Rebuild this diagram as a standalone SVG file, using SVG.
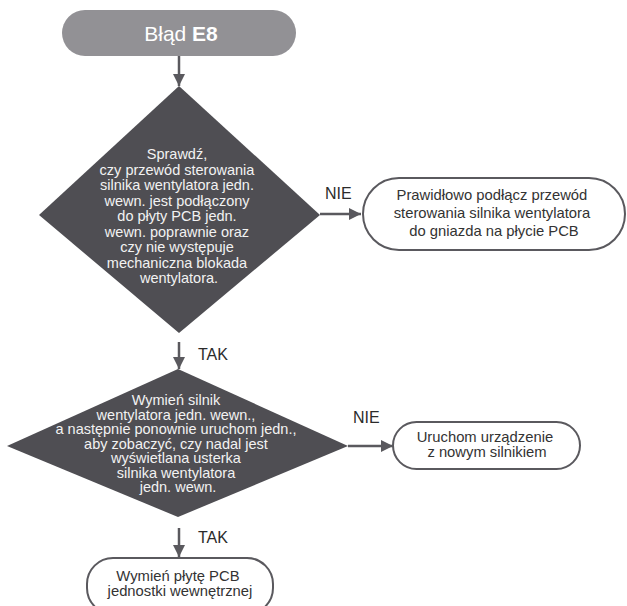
<svg xmlns="http://www.w3.org/2000/svg" width="627" height="606" viewBox="0 0 627 606">
<defs>
<style>
.dia{fill:#4f4e53}
.dt{font-family:"Liberation Sans",Arial,sans-serif;font-size:14.5px;fill:#f2f2f2;text-anchor:middle}
.bt{font-family:"Liberation Sans",Arial,sans-serif;font-size:14.8px;fill:#333;text-anchor:middle}
.lbl{font-family:"Liberation Sans",Arial,sans-serif;font-size:16px;fill:#2b2b2b}
.box{fill:#fff;stroke:#5a595e;stroke-width:2}
.con{stroke:#5a595e;stroke-width:2.5;fill:none}
</style>
<marker id="ah" viewBox="0 0 10 10" refX="10" refY="5" markerWidth="5" markerHeight="5" orient="auto" markerUnits="strokeWidth">
<path d="M0,0 L10,5 L0,10 z" fill="#5a595e"/>
</marker>
</defs>
<rect width="627" height="606" fill="#fff"/>
<g id="connectors">
<line class="con" x1="179" y1="56" x2="179" y2="86" marker-end="url(#ah)"/>
<line class="con" x1="320" y1="214" x2="361" y2="214" marker-end="url(#ah)"/>
<line class="con" x1="179" y1="342" x2="179" y2="369" marker-end="url(#ah)"/>
<line class="con" x1="348" y1="446" x2="393" y2="446" marker-end="url(#ah)"/>
<line class="con" x1="179" y1="528" x2="179" y2="557" marker-end="url(#ah)"/>
<text class="lbl" x="325" y="199">NIE</text>
<text class="lbl" x="198" y="360">TAK</text>
<text class="lbl" x="353" y="423">NIE</text>
<text class="lbl" x="198" y="543">TAK</text>
</g>
<g id="start">
<rect x="62" y="10" width="234" height="46" rx="23" fill="#929195"/>
<text x="181" y="41" font-family="'Liberation Sans',Arial,sans-serif" font-size="21" fill="#fff" text-anchor="middle">Błąd <tspan font-weight="bold">E8</tspan></text>
</g>
<g id="decision1">
<polygon class="dia" points="179,86 320,215 179,333 39,215"/>
<text class="dt">
<tspan x="179" y="159">Sprawdź,</tspan>
<tspan x="179" y="174.5">czy przewód sterowania</tspan>
<tspan x="179" y="190">silnika wentylatora jedn.</tspan>
<tspan x="179" y="205.5">wewn. jest podłączony</tspan>
<tspan x="179" y="221">do płyty PCB jedn.</tspan>
<tspan x="179" y="236.5">wewn. poprawnie oraz</tspan>
<tspan x="179" y="252">czy nie występuje</tspan>
<tspan x="179" y="267.5">mechaniczna blokada</tspan>
<tspan x="179" y="283">wentylatora.</tspan>
</text>
</g>
<g id="box1">
<rect class="box" x="363" y="178" width="262" height="72" rx="36"/>
<text class="bt">
<tspan x="494" y="200">Prawidłowo podłącz przewód</tspan>
<tspan x="494" y="218">sterowania silnika wentylatora</tspan>
<tspan x="494" y="236">do gniazda na płycie PCB</tspan>
</text>
</g>
<g id="decision2">
<polygon class="dia" points="178,369 348,446 178,517 7,446"/>
<text class="dt">
<tspan x="178" y="405">Wymień silnik</tspan>
<tspan x="178" y="419.5">wentylatora jedn. wewn.,</tspan>
<tspan x="178" y="434">a następnie ponownie uruchom jedn.,</tspan>
<tspan x="178" y="448.5">aby zobaczyć, czy nadal jest</tspan>
<tspan x="178" y="463">wyświetlana usterka</tspan>
<tspan x="178" y="477.5">silnika wentylatora</tspan>
<tspan x="178" y="492">jedn. wewn.</tspan>
</text>
</g>
<g id="box2">
<rect class="box" x="393" y="422" width="187" height="47" rx="23.5"/>
<text class="bt">
<tspan x="487" y="442">Uruchom urządzenie</tspan>
<tspan x="487" y="457">z nowym silnikiem</tspan>
</text>
</g>
<g id="box3">
<rect class="box" x="87" y="558" width="186" height="56" rx="26"/>
<text class="bt">
<tspan x="180" y="581">Wymień płytę PCB</tspan>
<tspan x="180" y="596">jednostki wewnętrznej</tspan>
</text>
</g>
</svg>
